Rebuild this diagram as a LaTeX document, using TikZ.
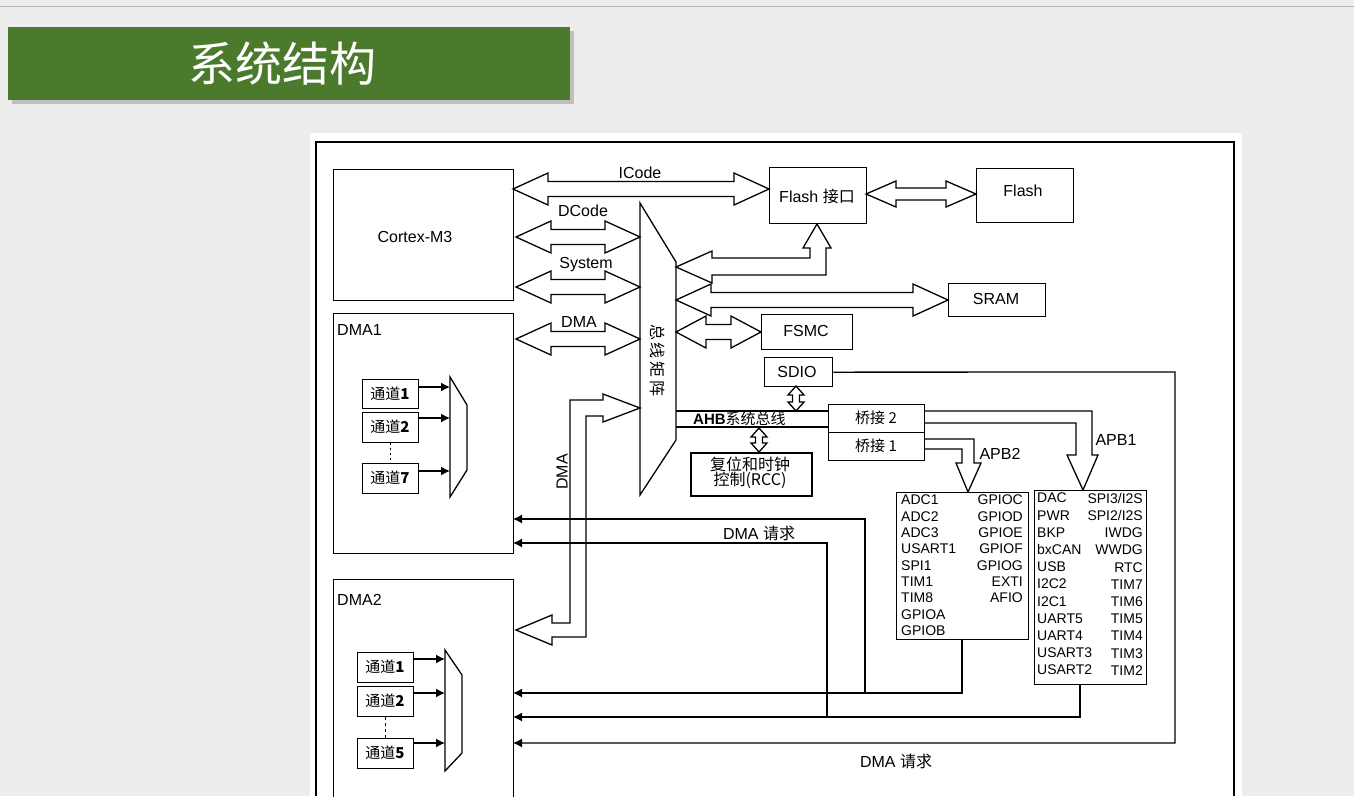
\documentclass[tikz,border=0pt]{standalone}
\usepackage{fontspec}
\setmainfont{Liberation Sans}
\newfontfamily\cjk{Noto Sans CJK SC}
\usetikzlibrary{arrows.meta}
\definecolor{pagebg}{HTML}{EDEDED}
\definecolor{bann}{HTML}{4B7A2D}
\newcommand\dblH[6]{\draw[blk] (#1,#3) -- ({#1+#6},{#3-#5}) -- ({#1+#6},{#3-#4}) -- ({#2-#6},{#3-#4}) -- ({#2-#6},{#3-#5}) -- (#2,#3) -- ({#2-#6},{#3+#5}) -- ({#2-#6},{#3+#4}) -- ({#1+#6},{#3+#4}) -- ({#1+#6},{#3+#5}) -- cycle;}
\newcommand\dblV[6]{\draw[blk] (#1,#2) -- ({#1-#5},{#2+#6}) -- ({#1-#4},{#2+#6}) -- ({#1-#4},{#3-#6}) -- ({#1-#5},{#3-#6}) -- (#1,#3) -- ({#1+#5},{#3-#6}) -- ({#1+#4},{#3-#6}) -- ({#1+#4},{#2+#6}) -- ({#1+#5},{#2+#6}) -- cycle;}
\newcommand\fs[1]{\fontsize{#1}{#1}\selectfont}
\begin{document}
\begin{tikzpicture}[x=1pt,y=-1pt,
  blk/.style={draw, line width=1.3pt, fill=white, line join=miter},
  ln/.style={draw, line width=1.3pt},
  box/.style={draw, line width=1.3pt, fill=white, anchor=north west, inner sep=0pt},
  lab/.style={font=\fs{16}, inner sep=1pt},
  ch/.style={box, minimum width=56pt},
  cht/.style={font=\cjk\fs{15}},
  req/.style={ln, -{Latex[length=9pt,width=9pt]}}]
\useasboundingbox (0,0) rectangle (1354,796);
\fill[pagebg] (0,0) rectangle (1354,796);
\draw[gray!60, line width=1pt] (0,6) -- (1354,6);
\fill[black!25] (12,31) rectangle (574,104);
\fill[bann] (8,27) rectangle (570,100);
\node[white, font=\cjk\fs{47}, anchor=west, inner sep=0pt] (title) at (188,64) {系统结构};
\fill[white] (310,133) rectangle (1242,796);
\draw[line width=1.3pt] (316,796) -- (316,142) -- (1234,142) -- (1234,796);
% main boxes
\node[box, minimum width=180pt, minimum height=131pt] (cm3) at (333,169) {};
\node[lab] at (415,237) {Cortex-M3};
\node[box, minimum width=180pt, minimum height=240pt] (dma1) at (333,313) {};
\node[lab, anchor=west] at (336,330) {DMA1};
\node[box, minimum width=180pt, minimum height=230pt] (dma2) at (333,579) {};
\node[lab, anchor=west] at (336,600) {DMA2};
\node[box, minimum width=97pt, minimum height=56pt] (fif) at (769,167) {};
\node[lab] at (817,196) {Flash {\cjk 接口}};
\node[box, minimum width=97pt, minimum height=54pt] (flash) at (976,168) {};
\node[lab] at (1023,191) {Flash};
\node[box, minimum width=97pt, minimum height=33pt] (sram) at (948,283) {};
\node[lab] at (996,299) {SRAM};
\node[box, minimum width=91pt, minimum height=35pt] (fsmc) at (761,314) {};
\node[lab] at (806,331) {FSMC};
\node[box, minimum width=68pt, minimum height=29pt] (sdio) at (764,357) {};
\node[lab] at (797,372) {SDIO};
\node[box, minimum width=96pt, minimum height=28pt] (br2) at (828,404) {};
\node[lab, font=\cjk\fs{15}] at (876,418) {桥接 2};
\node[box, minimum width=96pt, minimum height=28pt] (br1) at (828,432) {};
\node[lab, font=\cjk\fs{15}] at (876,446) {桥接 1};
\node[box, line width=2pt, minimum width=121pt, minimum height=43pt] (rcc) at (690,452) {};
\node[font=\cjk\fs{16}, align=center, inner sep=0pt] at (750,473) {复位和时钟\\[-1pt]控制(RCC)};
% bus matrix
\draw[blk] (640,203) -- (676,262) -- (676,440) -- (640,495) -- cycle;
\node[font=\cjk\fs{16}, rotate=-90] (bm) at (658,360) {总\,线\,矩\,阵};
% arrows Cortex
\dblH{513}{769}{189}{7.5}{16}{35}
\node[lab] at (640,173) {ICode};
\dblH{516}{640}{237}{7.5}{16}{35}
\node[lab] at (583,211) {DCode};
\dblH{516}{640}{287}{7.5}{16}{35}
\node[lab] at (586,265) {System};
\dblH{516}{640}{339}{7.5}{16}{35}
\node[lab] at (579,322) {DMA};
\dblH{866}{976}{194}{6}{13}{30}
\dblH{676}{948}{300}{7.5}{16}{35}
\dblH{676}{761}{332}{7.5}{16}{30}
% bent arrow to flash interface
\draw[blk] (676,267) -- (712,251) -- (712,258) -- (810,258) -- (810,248) -- (803,248) -- (817,224) -- (831,248) -- (826,248) -- (826,275) -- (712,275) -- (712,283) -- cycle;
% AHB bus
\draw[ln] (676,411) -- (828,411);
\draw[ln] (676,427) -- (828,427);
\node[font=\bfseries\fs{15}, inner sep=0pt, anchor=west] at (693,419) {AHB{\cjk\mdseries 系统总线}};
\dblV{796}{386}{411}{3.5}{8}{9}
\dblV{759}{428}{452}{3.5}{8}{9}
% DMA bus arrow
\draw[blk] (640,408) -- (603,394) -- (603,400) -- (570,400) -- (570,623) -- (552,623) -- (552,615) -- (516,630) -- (552,645) -- (552,637) -- (586,637) -- (586,416) -- (603,416) -- (603,422) -- cycle;
\node[lab, rotate=90] at (562,472) {DMA};
% APB arrows
\draw[ln, line join=miter] (924,439) -- (974,439) -- (974,463) -- (981,463) -- (968,492) -- (956,463) -- (962,463) -- (962,449) -- (924,449);
\node[lab] at (1000,454) {APB2};
\draw[ln, line join=miter] (924,411) -- (1092,411) -- (1092,455) -- (1098,455) -- (1083,490) -- (1067,455) -- (1076,455) -- (1076,423) -- (924,423);
\node[lab] at (1116,440) {APB1};
% APB boxes
\node[box, minimum width=132pt, minimum height=147pt] (apb2) at (896,492) {};
\node[font=\fontsize{14}{16.3}\selectfont, align=left, anchor=north west, inner sep=0pt] at (901,495) {ADC1\\ADC2\\ADC3\\USART1\\SPI1\\TIM1\\TIM8\\GPIOA\\GPIOB};
\node[font=\fontsize{14}{16.3}\selectfont, align=right, anchor=north east, inner sep=0pt] at (1023,495) {GPIOC\\GPIOD\\GPIOE\\GPIOF\\GPIOG\\EXTI\\AFIO};
\node[box, minimum width=112pt, minimum height=194pt] (apb1) at (1034,490) {};
\node[font=\fontsize{14}{17.2}\selectfont, align=left, anchor=north west, inner sep=0pt] at (1037,493) {DAC\\PWR\\BKP\\bxCAN\\USB\\I2C2\\I2C1\\UART5\\UART4\\USART3\\USART2};
\node[font=\fontsize{14}{17.2}\selectfont, align=right, anchor=north east, inner sep=0pt] at (1143,493) {SPI3/I2S\\SPI2/I2S\\IWDG\\WWDG\\RTC\\TIM7\\TIM6\\TIM5\\TIM4\\TIM3\\TIM2};
% DMA request lines
\coordinate (r1) at (513,519); \coordinate (r2) at (513,543);
\coordinate (r3) at (513,693); \coordinate (r4) at (513,717); \coordinate (r5) at (513,743);
\draw[req] (865,693) -- (865,519) -- (r1);
\draw[req] (827,717) -- (827,543) -- (r2);
\node[lab] at (759,533) {DMA {\cjk 请求}};
\draw[req] (962,639) -- (962,693) -- (r3);
\draw[req] (1080,684) -- (1080,717) -- (r4);
\draw[req] (sdio.east) -- (1175,372) -- (1175,743) -- (r5);
\node[lab] at (896,761) {DMA {\cjk 请求}};
% DMA1 channels
\node[ch, minimum height=29pt] (a1) at (362,379) {};
\node[cht] at (390,394) {通道\textbf{1}};
\node[ch, minimum height=30pt] (a2) at (362,412) {};
\node[cht] at (390,427) {通道\textbf{2}};
\node[ch, minimum height=30pt] (a7) at (362,463) {};
\node[cht] at (390,478) {通道\textbf{7}};
\draw[line width=1pt, dash pattern=on 2pt off 3pt] (a2.south) -- (a7.north);
\draw[blk] (450,377) -- (467,405) -- (467,470) -- (450,497) -- cycle;
\draw[req] (418,387) -- (450,387);
\draw[req] (418,418) -- (450,418);
\draw[req] (418,471) -- (450,471);
% DMA2 channels
\node[ch, minimum height=30pt] (b1) at (357,652) {};
\node[cht] at (385,667) {通道\textbf{1}};
\node[ch, minimum height=30pt] (b2) at (357,686) {};
\node[cht] at (385,701) {通道\textbf{2}};
\node[ch, minimum height=30pt] (b5) at (357,738) {};
\node[cht] at (385,753) {通道\textbf{5}};
\draw[line width=1pt, dash pattern=on 3pt off 3pt] (b2.south) -- (b5.north);
\draw[blk] (445,650) -- (462,675) -- (462,753) -- (445,771) -- cycle;
\draw[req] (413,659) -- (445,659);
\draw[req] (413,693) -- (445,693);
\draw[req] (413,743) -- (445,743);
\end{tikzpicture}
\end{document}
